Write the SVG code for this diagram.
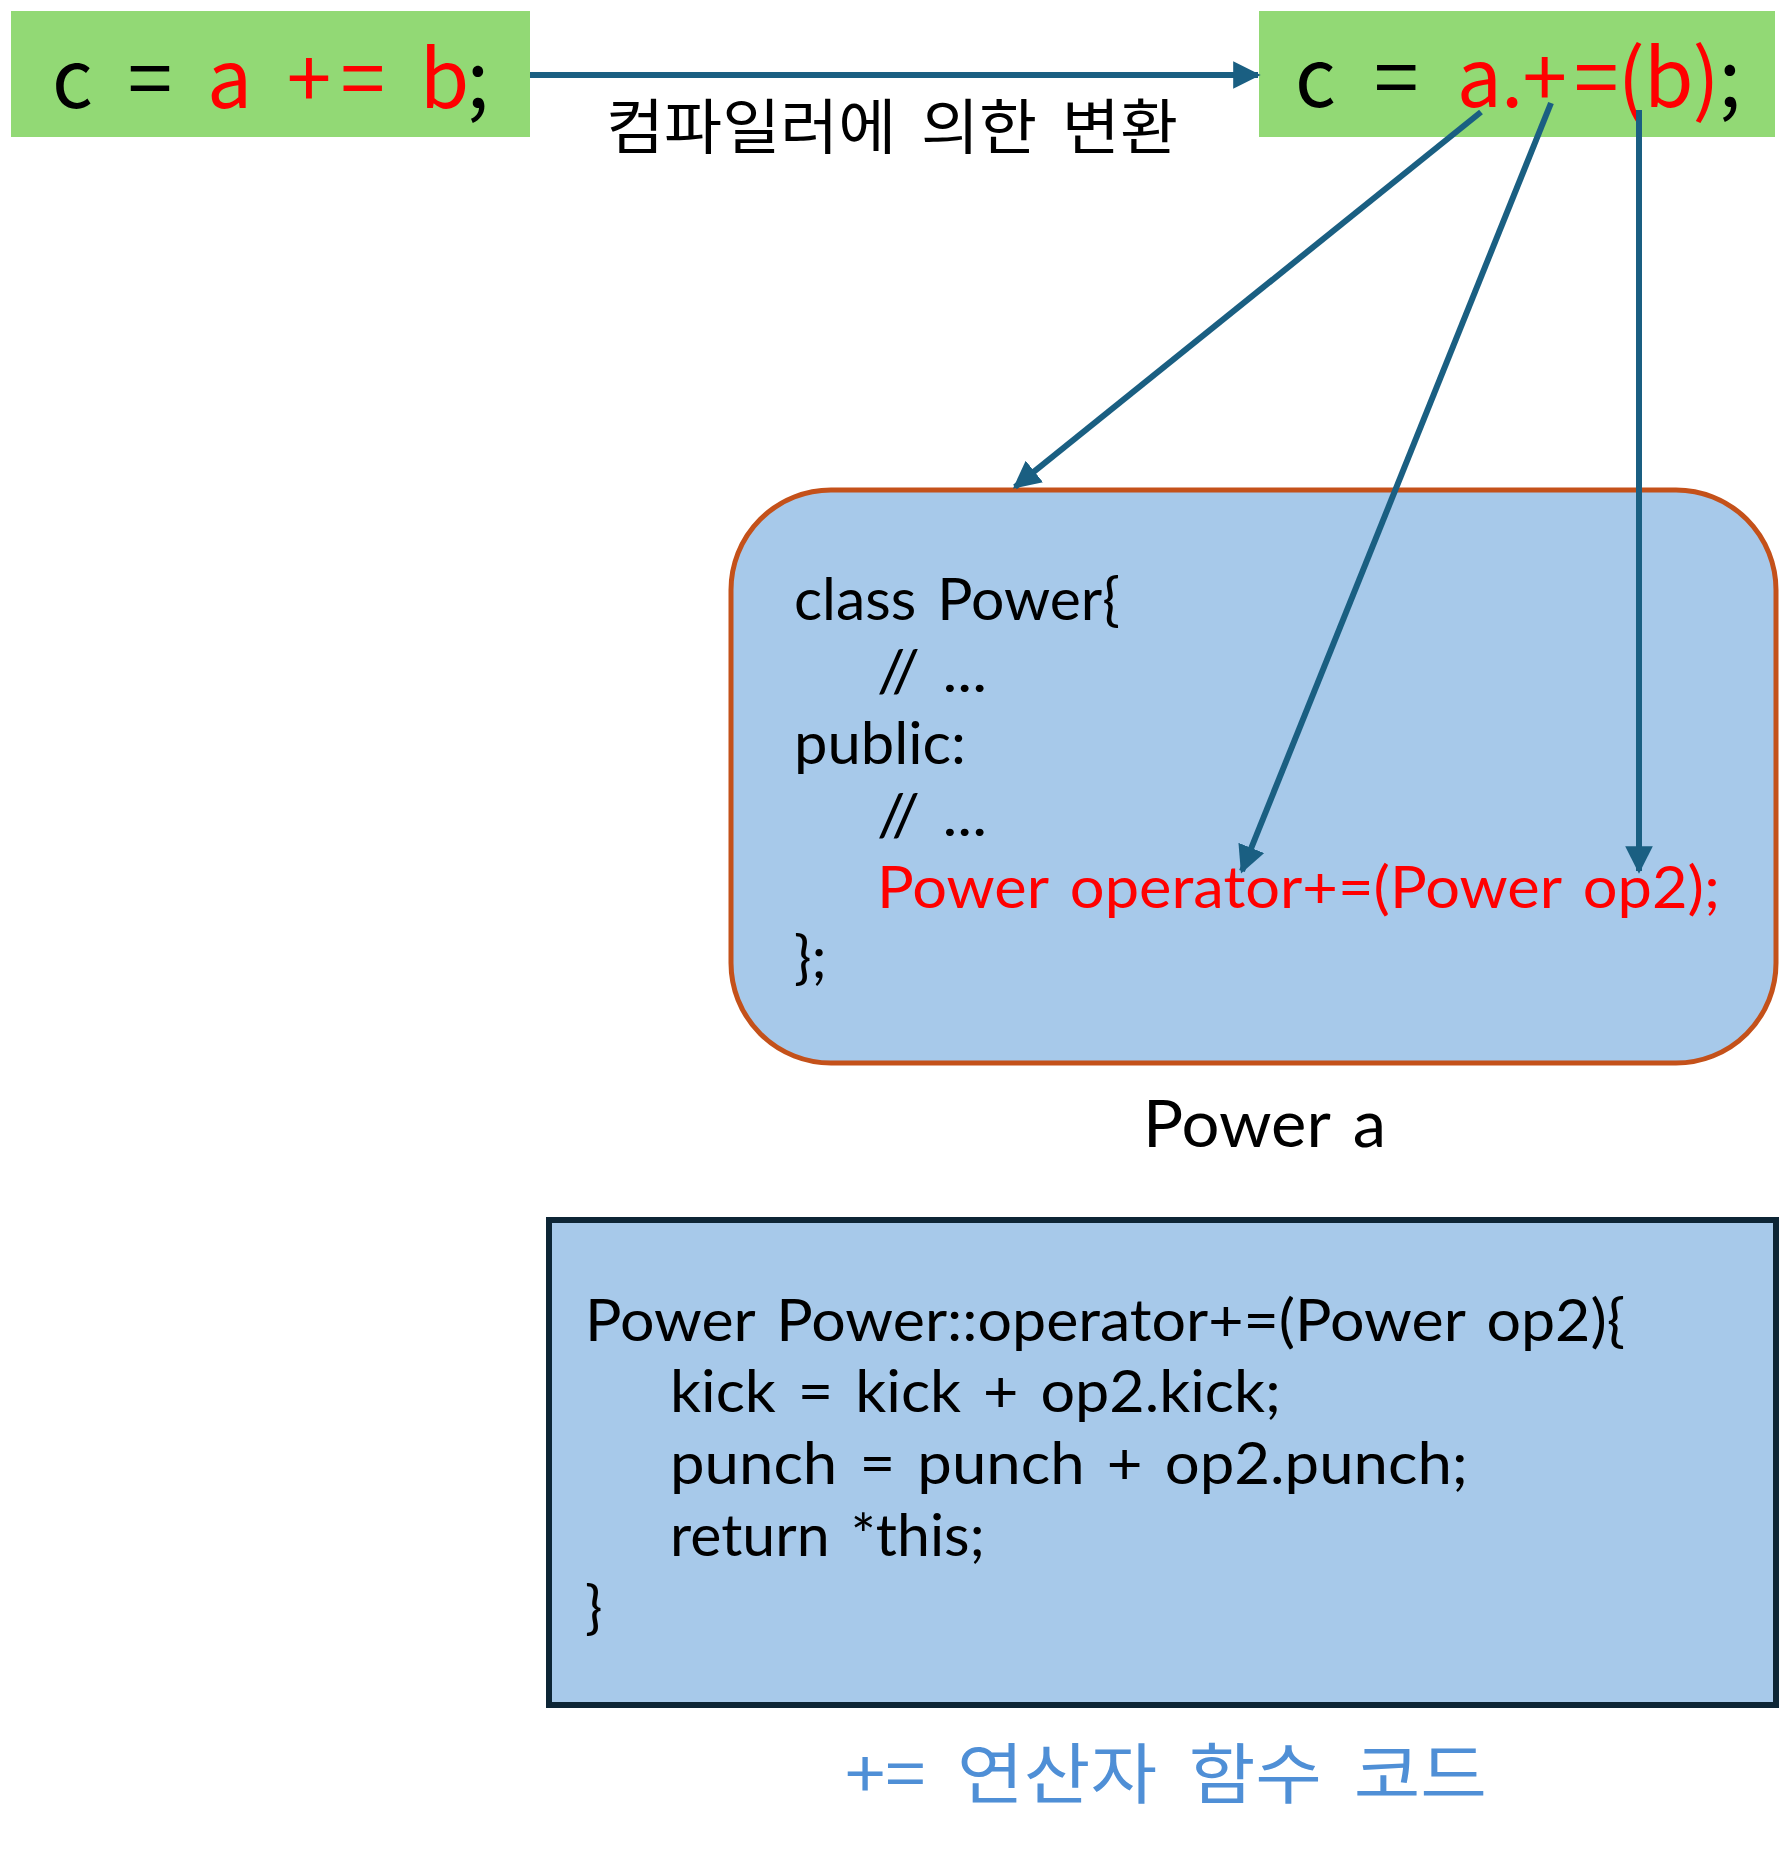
<svg xmlns="http://www.w3.org/2000/svg" width="1789" height="1855" viewBox="0 0 1789 1855">
<style>
text{font-family:"Noto Sans CJK KR","Noto Sans",sans-serif;fill:#000}
.big{font-size:80px;word-spacing:22px}
.code{font-family:Lato,"Noto Sans",sans-serif;font-size:58px;word-spacing:6px}
.red{fill:#FF0000}
.green{fill:#92D975}
.conn{stroke:#1A5F82;stroke-width:6;fill:none}
</style>
<defs>
<marker id="ah" viewBox="0 0 10 10" refX="9" refY="5" markerWidth="4.6" markerHeight="4.6" orient="auto" markerUnits="strokeWidth">
<path d="M0,0 L10,5 L0,10 z" fill="#1A5F82"/>
</marker>
</defs>
<g id="src">
<rect class="green" x="11" y="11" width="519" height="126"/>
<text class="big" x="52" y="108" textLength="437" lengthAdjust="spacing">c = <tspan class="red">a +<tspan dx="12">=</tspan>  b</tspan>;</text>
</g>
<g id="dst">
<rect class="green" x="1259" y="11" width="516" height="126"/>
<text class="big" x="1295" y="107" textLength="446" lengthAdjust="spacing">c = <tspan class="red">a.+<tspan dx="8">=</tspan>(b)</tspan>;</text>
</g>
<g id="classbox">
<rect x="731" y="490" width="1045" height="573" rx="100" ry="100" fill="#A7C9EA" stroke="#C4511A" stroke-width="5"/>
<text class="code" x="794" y="620" textLength="326" lengthAdjust="spacingAndGlyphs">class Power{</text>
<text class="code" x="877" y="692" textLength="110" lengthAdjust="spacingAndGlyphs">// ...</text>
<text class="code" x="794" y="764" textLength="172" lengthAdjust="spacingAndGlyphs">public:</text>
<text class="code" x="877" y="836" textLength="110" lengthAdjust="spacingAndGlyphs">// ...</text>
<text class="code red" x="877" y="908" textLength="843" lengthAdjust="spacingAndGlyphs">Power operator+=(Power op2);</text>
<text class="code" x="794" y="978">};</text>
</g>
<g id="caption-a">
<text class="code" x="1143" y="1147" style="font-size:66px" textLength="243" lengthAdjust="spacingAndGlyphs">Power a</text>
</g>
<g id="funcbox">
<rect x="549" y="1220" width="1227" height="485" fill="#A7C9EA" stroke="#0D2535" stroke-width="6"/>
<text class="code" x="585" y="1341" textLength="1040" lengthAdjust="spacingAndGlyphs">Power Power::operator+=(Power op2){</text>
<text class="code" x="670" y="1412" textLength="611" lengthAdjust="spacingAndGlyphs">kick = kick + op2.kick;</text>
<text class="code" x="670" y="1484" textLength="798" lengthAdjust="spacingAndGlyphs">punch = punch + op2.punch;</text>
<text class="code" x="670" y="1556" textLength="315" lengthAdjust="spacingAndGlyphs">return *this;</text>
<text class="code" x="585" y="1628">}</text>
</g>
<g id="caption-func">
<text x="845" y="1798" font-size="66" word-spacing="14" style="fill:#4F8FD6" textLength="642" lengthAdjust="spacingAndGlyphs">+= 연산자 함수 코드</text>
</g>
<g id="connectors">
<line class="conn" x1="530" y1="75" x2="1258" y2="75" marker-end="url(#ah)"/>
<text x="606" y="149" font-size="60" word-spacing="10" textLength="572" lengthAdjust="spacingAndGlyphs">컴파일러에 의한 변환</text>
<line class="conn" x1="1481" y1="112" x2="1015" y2="487" marker-end="url(#ah)"/>
<line class="conn" x1="1551" y1="103" x2="1242" y2="871" marker-end="url(#ah)"/>
<line class="conn" x1="1639" y1="110" x2="1639" y2="871" marker-end="url(#ah)"/>
</g>
</svg>
